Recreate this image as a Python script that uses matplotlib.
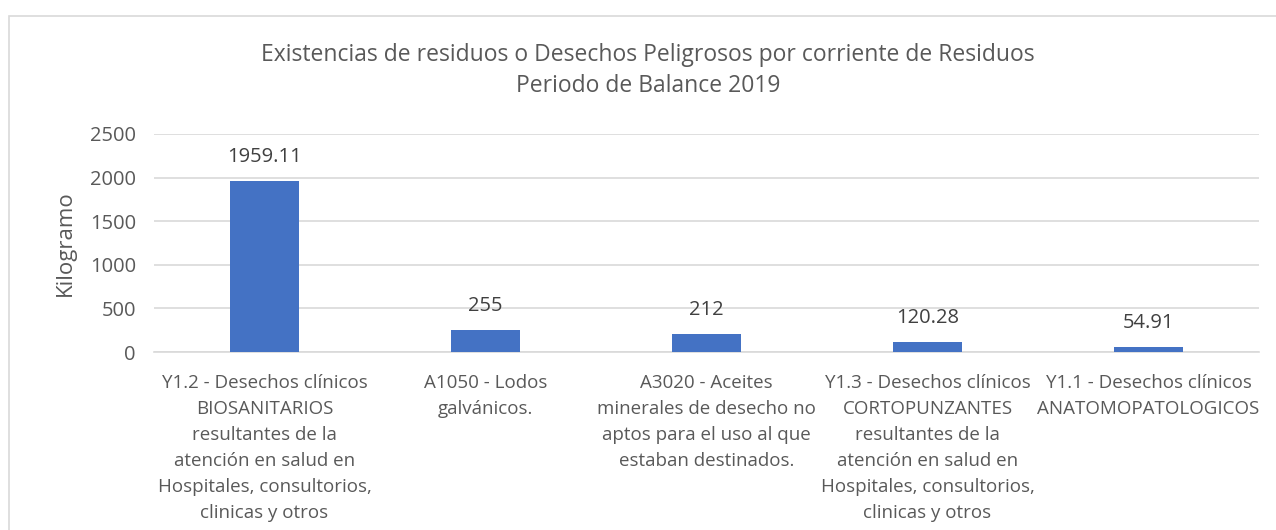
import matplotlib.pyplot as plt
from matplotlib.patches import Rectangle

plt.rcParams['font.family'] = ['Open Sans', 'DejaVu Sans']

categories = [
    "Y1.2 - Desechos clínicos\nBIOSANITARIOS\nresultantes de la\natención en salud en\nHospitales, consultorios,\nclinicas y otros",
    "A1050 - Lodos\ngalvánicos.",
    "A3020 - Aceites\nminerales de desecho no\naptos para el uso al que\nestaban destinados.",
    "Y1.3 - Desechos clínicos\nCORTOPUNZANTES\nresultantes de la\natención en salud en\nHospitales, consultorios,\nclinicas y otros",
    "Y1.1 - Desechos clínicos\nANATOMOPATOLOGICOS",
]
values = [1959.11, 255, 212, 120.28, 54.91]
value_labels = ["1959.11", "255", "212", "120.28", "54.91"]
yticks = [0, 500, 1000, 1500, 2000, 2500]

text_color = "#595959"
bar_color = "#4472c4"
grid_color = "#d9d9d9"

fig = plt.figure(figsize=(12.76, 5.30), dpi=100)
fig.patches.append(Rectangle((9 / 1276, -0.1), 1.2, 0.1 + (530 - 16) / 530,
                             transform=fig.transFigure, fill=False,
                             edgecolor="#d9d9d9", linewidth=1.2))

ax = fig.add_axes([154 / 1276, 178 / 530, 1105 / 1276, 218 / 530])
x = range(len(values))
ax.bar(x, values, width=0.31, color=bar_color, zorder=3)

for xi, v, lab in zip(x, values, value_labels):
    ax.annotate(lab, (xi, v), xytext=(0, 10), textcoords="offset points",
                ha="center", va="bottom", fontsize=14.5, color="#404040")

ax.set_xlim(-0.5, len(values) - 0.5)
ax.set_ylim(0, 2500)
ax.set_yticks(yticks)
ax.set_yticklabels([str(t) for t in yticks], fontsize=14.5, color=text_color)
ax.set_xticks(list(x))
ax.set_xticklabels(categories, fontsize=13.5, color=text_color, linespacing=1.58, va="top")
ax.tick_params(axis="both", length=0)
ax.tick_params(axis="y", pad=13)
ax.tick_params(axis="x", pad=15.5)
ax.grid(axis="y", color=grid_color, linewidth=1.2, zorder=0)
for s in ["top", "right", "left"]:
    ax.spines[s].set_visible(False)
ax.spines["bottom"].set_color(grid_color)
ax.spines["bottom"].set_linewidth(1.2)

ax.set_ylabel("Kilogramo", fontsize=16, color=text_color, labelpad=10)

fig.text(648 / 1276, (530 - 55) / 530, "Existencias de residuos o Desechos Peligrosos por corriente de Residuos",
         ha="center", va="center", fontsize=16.5, color=text_color)
fig.text(648 / 1276, (530 - 86) / 530, "Periodo de Balance 2019",
         ha="center", va="center", fontsize=16.5, color=text_color)

fig.savefig("out.png", dpi=100)
